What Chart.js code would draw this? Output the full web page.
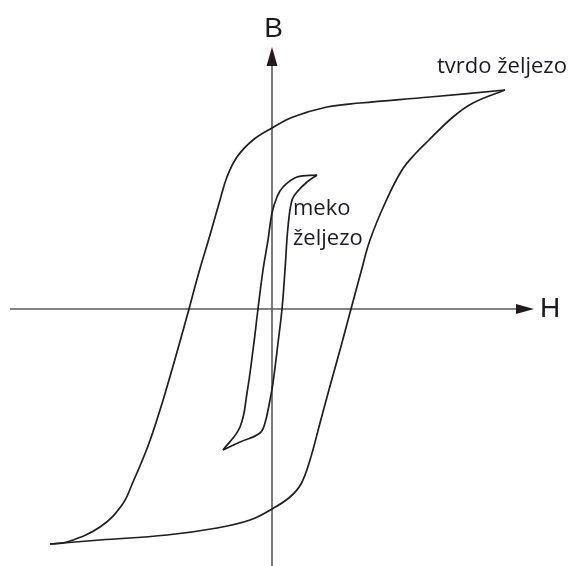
<!DOCTYPE html>
<html>
<head>
<meta charset="utf-8">
<title>Histereza</title>
<script src="https://cdn.jsdelivr.net/npm/chart.js@4/dist/chart.umd.min.js"></script>
<style>
  body { margin: 0; background: #fff; }
  #myChart { display: block; }
</style>
</head>
<body>
<canvas id="myChart" width="573" height="566"></canvas>
<script>
// tvrdo zeljezo - silazna grana (od vrha desno prema dnu lijevo)
var hardDownH = [23.3, 15.8, 8.8, 5.5, 2.1, 0, -1.9, -3.5, -4.5, -5.2, -6.2, -7.3, -8.3, -9.3, -10.3, -11.2, -12.4, -13.9, -15.0, -17.2, -20.5, -22.2];
var hardDownB = [21.9, 21.2, 20.6, 20.2, 19.2, 18.1, 16.9, 15.2, 13.2, 10.9, 7.4, 3.7, 0, -3.6, -7.1, -10.1, -13.7, -17.3, -19.6, -21.8, -23.3, -23.5];
// tvrdo zeljezo - uzlazna grana
var hardUpH = [-22.2, -17.2, -10.5, -5.5, -2.2, 0, 1.8, 2.9, 3.8, 4.8, 5.8, 6.8, 7.9, 8.9, 9.8, 11.4, 13.0, 14.4, 15.6, 18.1, 20.1, 23.3];
var hardUpB = [-23.5, -23.1, -22.6, -21.9, -21.1, -20.0, -18.8, -17.5, -15.1, -11.4, -7.7, -4.1, 0, 3.7, 6.9, 10.8, 13.9, 15.6, 16.8, 19.2, 20.6, 21.9];

// meko zeljezo
var softDownH = [4.5, 2.5, 1.1, 0.5, 0, -0.4, -0.9, -1.4, -1.9, -2.5, -3.2, -4.9];
var softDownB = [13.4, 13.2, 12.2, 11.2, 9.6, 6.9, 3.9, 0, -4.1, -8.4, -11.8, -14.1];
var softUpH = [-4.9, -3.2, -1.2, -0.7, -0.2, 0.1, 0.6, 1.0, 1.3, 1.6, 2.0, 2.5, 3.5, 4.5];
var softUpB = [-14.1, -13.3, -12.4, -11.4, -9.1, -7.4, -3.4, 0, 3.9, 8.2, 10.9, 11.7, 12.7, 13.4];

// osi i natpisi
var axisH = [-26.2, 26.2];
var axisB = [-25.7, 26.2];
var labels = [
  { text: 'B', h: 0.15, b: 27.2, font: '28px "Liberation Sans", Arial, sans-serif', align: 'center' },
  { text: 'H', h: 26.8, b: -0.8, font: '28px "Liberation Sans", Arial, sans-serif', align: 'left' },
  { text: 'tvrdo željezo', h: 16.5, b: 23.6, font: '22px "Open Sans", "Noto Sans", sans-serif', align: 'left' },
  { text: 'meko', h: 2.1, b: 9.4, font: '22px "Open Sans", "Noto Sans", sans-serif', align: 'left' },
  { text: 'željezo', h: 2.1, b: 6.4, font: '22px "Open Sans", "Noto Sans", sans-serif', align: 'left' }
];

function toPoints(hs, bs) {
  return hs.map(function (h, i) { return { x: h, y: bs[i] }; });
}

function curve(hs, bs) {
  return {
    data: toPoints(hs, bs),
    showLine: true,
    borderColor: '#1e1e1e',
    borderWidth: 1.7,
    pointRadius: 0,
    tension: 0.4,
    fill: false
  };
}

var axesPlugin = {
  id: 'axes',
  beforeDatasetsDraw: function (chart) {
    var ctx = chart.ctx;
    var x = chart.scales.x, y = chart.scales.y;
    var x0 = x.getPixelForValue(0), y0 = y.getPixelForValue(0);
    var xl = x.getPixelForValue(axisH[0]), xr = x.getPixelForValue(axisH[1]);
    var yb = y.getPixelForValue(axisB[0]), yt = y.getPixelForValue(axisB[1]);
    ctx.save();
    ctx.strokeStyle = '#5a5a5a';
    ctx.lineWidth = 1.6;
    ctx.beginPath();
    ctx.moveTo(xl, y0); ctx.lineTo(xr - 10, y0);
    ctx.moveTo(x0, yb); ctx.lineTo(x0, yt + 10);
    ctx.stroke();

    ctx.fillStyle = '#231a1e';
    ctx.beginPath();
    ctx.moveTo(xr, y0); ctx.lineTo(xr - 18, y0 - 5); ctx.lineTo(xr - 18, y0 + 5);
    ctx.closePath();
    ctx.fill();
    ctx.beginPath();
    ctx.moveTo(x0, yt); ctx.lineTo(x0 - 5.5, yt + 19); ctx.lineTo(x0 + 5.5, yt + 19);
    ctx.closePath();
    ctx.fill();

    ctx.fillStyle = '#1a1a24';
    ctx.textBaseline = 'alphabetic';
    labels.forEach(function (l) {
      ctx.font = l.font;
      ctx.textAlign = l.align;
      ctx.fillText(l.text, x.getPixelForValue(l.h), y.getPixelForValue(l.b));
    });
    ctx.restore();
  }
};

var ctx = document.getElementById('myChart');
var myChart = new Chart(ctx, {
  type: 'scatter',
  data: {
    datasets: [
      curve(hardDownH, hardDownB),
      curve(hardUpH, hardUpB),
      curve(softDownH, softDownB),
      curve(softUpH, softUpB)
    ]
  },
  options: {
    responsive: false,
    animation: false,
    layout: { padding: 0 },
    plugins: { legend: { display: false }, tooltip: { enabled: false } },
    scales: {
      x: { type: 'linear', display: false, min: -27.2, max: 30.1 },
      y: { type: 'linear', display: false, min: -25.7, max: 30.9 }
    }
  },
  plugins: [axesPlugin]
});
</script>
</body>
</html>
